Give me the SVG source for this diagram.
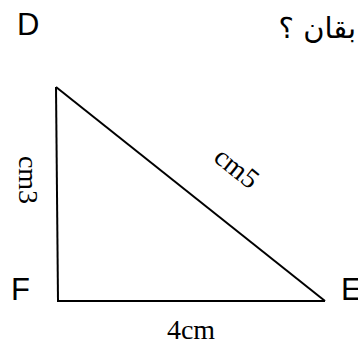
<svg xmlns="http://www.w3.org/2000/svg" width="358" height="345" viewBox="0 0 358 345">
<style>
.lbl{font-family:"Liberation Sans",Arial,sans-serif;font-size:31px;fill:#000}
.meas{font-family:"Liberation Serif","Times New Roman",serif;font-size:28px;fill:#000}
.edge{stroke:#000;stroke-width:2;fill:none}
</style>
<rect width="358" height="345" fill="#fff"/>
<g id="connectors">
<line class="edge" x1="56" y1="87" x2="58" y2="301"/>
<line class="edge" x1="57" y1="301" x2="325" y2="301"/>
<line class="edge" x1="56" y1="87" x2="325" y2="301"/>
</g>
<g id="node-D"><text class="lbl" x="17" y="35">D</text></g>
<g id="node-F"><text class="lbl" x="11" y="300">F</text></g>
<g id="node-E"><text class="lbl" x="341" y="300">E</text></g>
<g id="title"><text x="356" y="38" text-anchor="start" direction="rtl" unicode-bidi="embed" font-family="'DejaVu Sans','Noto Sans',sans-serif" font-size="29" fill="#000">بقان ؟</text></g>
<g id="label-cm3"><text class="meas" transform="translate(19,180) rotate(90)" text-anchor="middle">cm3</text></g>
<g id="label-cm5"><text class="meas" transform="translate(231,175) rotate(38.6)" text-anchor="middle">cm5</text></g>
<g id="label-4cm"><text class="meas" x="191" y="339" text-anchor="middle">4cm</text></g>
</svg>
